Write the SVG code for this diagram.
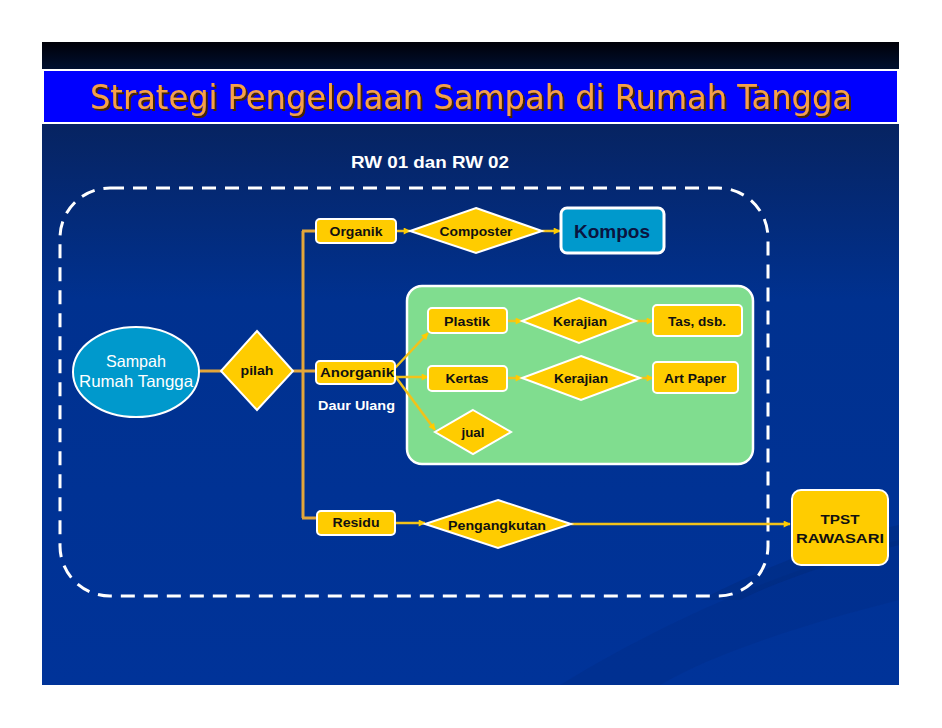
<svg xmlns="http://www.w3.org/2000/svg" width="942" height="728" viewBox="0 0 942 728">
<defs>
<linearGradient id="topband" x1="0" y1="0" x2="0" y2="1">
<stop offset="0" stop-color="#000008"/>
<stop offset="1" stop-color="#001030"/>
</linearGradient>
<linearGradient id="body" x1="0" y1="0" x2="0" y2="1">
<stop offset="0" stop-color="#0a1d4c"/>
<stop offset="0.4" stop-color="#00318f"/>
<stop offset="1" stop-color="#003399"/>
</linearGradient>
<filter id="shadow" x="-5%" y="-20%" width="110%" height="150%">
<feDropShadow dx="2" dy="2" stdDeviation="0.4" flood-color="#4a2800" flood-opacity="1"/>
</filter>
<marker id="arr" viewBox="0 0 10 10" refX="9" refY="5" markerWidth="8" markerHeight="7" markerUnits="userSpaceOnUse" orient="auto">
<path d="M0,0 L10,5 L0,10 z" fill="#FFCC00"/>
</marker>
<style>
.box{fill:#FFCC00;stroke:#FFFFFF;stroke-width:2}
.dia{fill:#FFCC00;stroke:#FFFFFF;stroke-width:2}
.lbl{font-family:"Liberation Sans",Arial,sans-serif;font-weight:bold;font-size:13.5px;fill:#111111;text-anchor:middle}
.wt{font-family:"Liberation Sans",Arial,sans-serif;fill:#FFFFFF}
.ln{stroke:#E3A63A;stroke-width:3;fill:none}
.ar{stroke:#F2C21A;stroke-width:2.5;fill:none;marker-end:url(#arr)}
</style>
</defs>
<rect x="0" y="0" width="942" height="728" fill="#FFFFFF"/>
<g id="slide-bg">
<rect x="42" y="42" width="857" height="643" fill="url(#body)"/>
<path d="M560,685 C700,600 820,560 899,540 L899,600 C820,620 720,650 660,685 Z" fill="#002a80" opacity="0.3"/>
<path d="M700,600 C780,560 850,535 899,525 L899,545 C840,560 780,580 740,600 Z" fill="#002266" opacity="0.25"/>
<rect x="42" y="42" width="857" height="27" fill="url(#topband)"/>
<rect x="43" y="70" width="855" height="53" fill="#0000FF" stroke="#FFFFFF" stroke-width="2"/>
</g>
<g id="title">
<text x="471" y="109" font-family="DejaVu Sans,Verdana,sans-serif" font-size="34" fill="#F5A048" text-anchor="middle" textLength="762" lengthAdjust="spacingAndGlyphs" filter="url(#shadow)">Strategi Pengelolaan Sampah di Rumah Tangga</text>
</g>
<text id="subtitle" class="wt" x="430" y="168" font-weight="bold" font-size="16.5" text-anchor="middle" textLength="158" lengthAdjust="spacingAndGlyphs">RW 01 dan RW 02</text>
<rect id="boundary" x="60" y="188" width="708" height="408" rx="50" ry="50" fill="none" stroke="#FFFFFF" stroke-width="3" stroke-dasharray="14 9"/>
<g id="daur-ulang-area">
<rect x="407" y="286" width="346" height="178" rx="15" ry="15" fill="#80DD8F" stroke="#FFFFFF" stroke-width="2.5"/>
</g>
<g id="connectors">
<line class="ln" x1="199" y1="371" x2="222" y2="371"/>
<line class="ln" x1="293" y1="371" x2="316" y2="371"/>
<line class="ln" x1="303" y1="231" x2="303" y2="518"/>
<line class="ln" x1="302" y1="231" x2="316" y2="231"/>
<line class="ln" x1="302" y1="518" x2="316" y2="518"/>
<line class="ar" x1="396" y1="231" x2="410" y2="231"/>
<line class="ar" x1="542" y1="231" x2="560" y2="231"/>
<line class="ar" x1="395" y1="368" x2="428" y2="333"/>
<line class="ar" x1="395" y1="377" x2="428" y2="377"/>
<line class="ar" x1="395" y1="376" x2="435" y2="430"/>
<line class="ar" x1="507" y1="321" x2="522" y2="321"/>
<line class="ar" x1="636" y1="321" x2="653" y2="321"/>
<line class="ar" x1="507" y1="378" x2="522" y2="378"/>
<line class="ar" x1="640" y1="378" x2="653" y2="378"/>
<line class="ar" x1="396" y1="523" x2="425" y2="523"/>
<line class="ar" x1="571" y1="524" x2="790" y2="524"/>
</g>
<g id="sampah">
<ellipse cx="136" cy="372" rx="63" ry="45" fill="#0099CC" stroke="#FFFFFF" stroke-width="2"/>
<text class="wt" x="136" y="367" font-size="16.5" text-anchor="middle" textLength="60" lengthAdjust="spacingAndGlyphs">Sampah</text>
<text class="wt" x="136" y="387" font-size="16.5" text-anchor="middle" textLength="114" lengthAdjust="spacingAndGlyphs">Rumah Tangga</text>
</g>
<g id="pilah">
<polygon class="dia" points="257,331 293,371 257,410 221,371"/>
<text class="lbl" x="257" y="375" textLength="33" lengthAdjust="spacingAndGlyphs">pilah</text>
</g>
<g id="organik">
<rect class="box" x="316" y="219" width="80" height="24" rx="4"/>
<text class="lbl" x="356" y="236" textLength="53" lengthAdjust="spacingAndGlyphs">Organik</text>
</g>
<g id="composter">
<polygon class="dia" points="476,208 542,231 476,253 410,231"/>
<text class="lbl" x="476" y="236" textLength="73" lengthAdjust="spacingAndGlyphs">Composter</text>
</g>
<g id="kompos">
<rect x="561" y="208" width="103" height="45" rx="6" fill="#0099CC" stroke="#FFFFFF" stroke-width="3"/>
<text x="612" y="238" font-family="Liberation Sans,Arial,sans-serif" font-weight="bold" font-size="19" fill="#0a1440" text-anchor="middle" textLength="76" lengthAdjust="spacingAndGlyphs">Kompos</text>
</g>
<g id="anorganik">
<rect class="box" x="316" y="361" width="79" height="23" rx="4"/>
<text class="lbl" x="357" y="377" textLength="74" lengthAdjust="spacingAndGlyphs">Anorganik</text>
<text class="wt" x="318" y="410" font-weight="bold" font-size="13.5" textLength="77" lengthAdjust="spacingAndGlyphs">Daur Ulang</text>
</g>
<g id="plastik">
<rect class="box" x="428" y="308" width="79" height="25" rx="4"/>
<text class="lbl" x="467" y="326" textLength="46" lengthAdjust="spacingAndGlyphs">Plastik</text>
</g>
<g id="kerajian1">
<polygon class="dia" points="579,298 636,321 579,343 522,321"/>
<text class="lbl" x="580" y="326" textLength="54" lengthAdjust="spacingAndGlyphs">Kerajian</text>
</g>
<g id="tas">
<rect class="box" x="653" y="305" width="89" height="31" rx="4"/>
<text class="lbl" x="697" y="326" textLength="58" lengthAdjust="spacingAndGlyphs">Tas, dsb.</text>
</g>
<g id="kertas">
<rect class="box" x="428" y="366" width="79" height="25" rx="4"/>
<text class="lbl" x="467" y="383" textLength="43" lengthAdjust="spacingAndGlyphs">Kertas</text>
</g>
<g id="kerajian2">
<polygon class="dia" points="581,356 640,378 581,400 522,378"/>
<text class="lbl" x="581" y="383" textLength="54" lengthAdjust="spacingAndGlyphs">Kerajian</text>
</g>
<g id="artpaper">
<rect class="box" x="653" y="362" width="85" height="31" rx="4"/>
<text class="lbl" x="695" y="383" textLength="62" lengthAdjust="spacingAndGlyphs">Art Paper</text>
</g>
<g id="jual">
<polygon class="dia" points="473,410 511,432 473,454 435,432"/>
<text class="lbl" x="473" y="437" textLength="23" lengthAdjust="spacingAndGlyphs">jual</text>
</g>
<g id="residu">
<rect class="box" x="317" y="511" width="78" height="24" rx="4"/>
<text class="lbl" x="356" y="527" textLength="47" lengthAdjust="spacingAndGlyphs">Residu</text>
</g>
<g id="pengangkutan">
<polygon class="dia" points="498,500 571,524 498,548 425,524"/>
<text class="lbl" x="497" y="530" textLength="98" lengthAdjust="spacingAndGlyphs">Pengangkutan</text>
</g>
<g id="tpst">
<rect class="box" x="792" y="490" width="96" height="75" rx="9" stroke-width="2.5"/>
<text class="lbl" x="840" y="524" font-size="15.5" textLength="39" lengthAdjust="spacingAndGlyphs">TPST</text>
<text class="lbl" x="840" y="543" font-size="15.5" textLength="88" lengthAdjust="spacingAndGlyphs">RAWASARI</text>
</g>
</svg>
